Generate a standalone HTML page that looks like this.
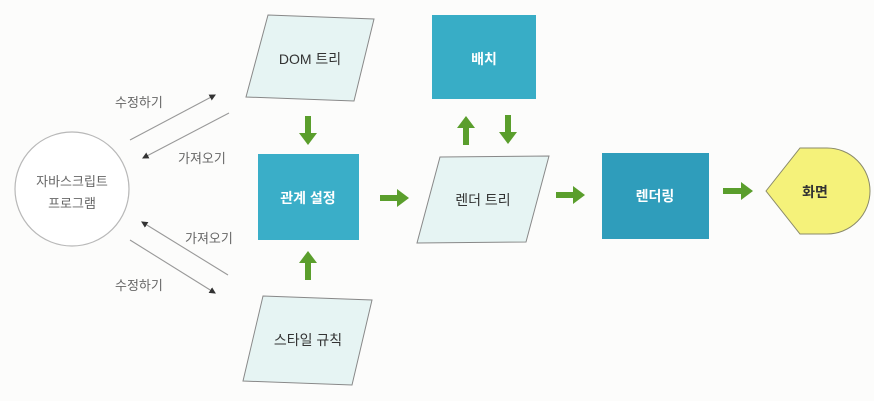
<!DOCTYPE html>
<html><head><meta charset="utf-8"><style>
body{margin:0;background:#fdfdfc;}
svg{display:block;}
text{font-family:"Liberation Sans","Noto Sans CJK KR",sans-serif;}
</style></head><body>
<svg width="874" height="401" viewBox="0 0 874 401" xmlns="http://www.w3.org/2000/svg">
<defs>
<marker id="a" markerWidth="6" markerHeight="6" refX="5" refY="3" orient="auto"><path d="M0,0L6,3L0,6z" fill="#333"/></marker>
</defs>
<rect width="874" height="401" fill="#fcfcfb"/>
<!-- circle -->
<circle cx="72" cy="189" r="57" fill="#fff" stroke="#b8b8b8" stroke-width="1.2"/>
<text x="72" y="186" font-size="13" fill="#666" text-anchor="middle">자바스크립트</text>
<text x="72" y="208" font-size="13" fill="#666" text-anchor="middle">프로그램</text>
<!-- thin connector lines -->
<g stroke="#999" stroke-width="1.1" fill="none">
<line x1="130" y1="140" x2="215" y2="95" marker-end="url(#a)"/>
<line x1="229" y1="113" x2="143" y2="158" marker-end="url(#a)"/>
<line x1="228" y1="275" x2="142" y2="222" marker-end="url(#a)"/>
<line x1="130" y1="240" x2="215" y2="293" marker-end="url(#a)"/>
</g>
<g font-size="13" fill="#666">
<text x="115" y="107">수정하기</text>
<text x="178" y="163">가져오기</text>
<text x="185" y="243">가져오기</text>
<text x="115" y="290">수정하기</text>
</g>
<!-- parallelograms -->
<g fill="#e6f4f3" stroke="#888" stroke-width="1">
<polygon points="268,15 374,19 354,101 246,97"/>
<polygon points="263,296 372,300 352,385 243,381"/>
<polygon points="440,157 549,156 526,242 417,243"/>
</g>
<g font-size="14" fill="#333" text-anchor="middle">
<text x="310" y="64">DOM 트리</text>
<text x="308" y="345">스타일 규칙</text>
<text x="483" y="205">렌더 트리</text>
</g>
<!-- teal rects -->
<rect x="258" y="154" width="101" height="86" fill="#3aaec8"/>
<rect x="432" y="15" width="104" height="84" fill="#38adc6"/>
<rect x="602" y="153" width="107" height="86" fill="#2f9dbb"/>
<g font-size="14" fill="#fff" text-anchor="middle" font-weight="bold">
<text x="308" y="203">관계 설정</text>
<text x="484" y="64">배치</text>
<text x="655" y="201">렌더링</text>
</g>
<!-- screen shape -->
<path d="M766,191 L800,148 L827,148 A43,43 0 0 1 827,234 L800,234 Z" fill="#f5f27a" stroke="#8a8a6a" stroke-width="1"/>
<text x="815" y="197" font-size="14" fill="#333" text-anchor="middle" font-weight="bold">화면</text>
<!-- green arrows -->
<g fill="#5a9e2c">
<!-- down DOM -->
<path d="M305,116h6v17h6l-9,12l-9,-12h6z"/>
<!-- up style -->
<path d="M305,280h6v-17h6l-9,-12l-9,12h6z"/>
<!-- right 1 -->
<path d="M380,195v6h17v6l12,-9l-12,-9v6z"/>
<!-- up to 배치 -->
<path d="M463,145h6v-17h6l-9,-12l-9,12h6z"/>
<!-- down from 배치 -->
<path d="M505,115h6v17h6l-9,12l-9,-12h6z"/>
<!-- right 2 -->
<path d="M556,192v6h17v6l12,-9l-12,-9v6z"/>
<!-- right 3 -->
<path d="M723,188v6h18v6l12,-9l-12,-9v6z"/>
</g>
</svg>
</body></html>
